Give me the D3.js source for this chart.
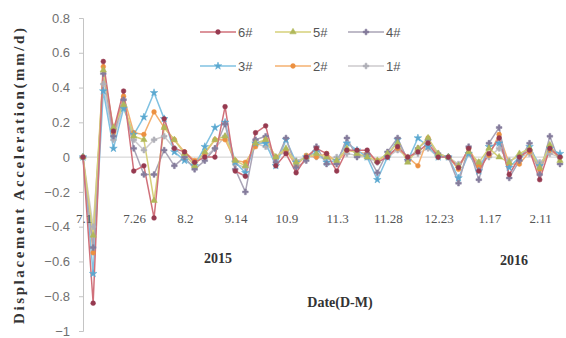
<!DOCTYPE html>
<html>
<head>
<meta charset="utf-8">
<script src="https://cdn.jsdelivr.net/npm/d3@7"></script>
<style>
  html, body { margin: 0; padding: 0; background: #fff; }
  svg { display: block; }
</style>
</head>
<body>
<svg id="chart" width="566" height="338"></svg>
<script>
// Observation dates, every 5 days from 1 July 2015
const categories = [
  "7.1","7.6","7.11","7.16","7.21","7.26","7.31","8.5","8.10","8.15",
  "8.20","8.25","8.30","9.4","9.9","9.14","9.19","9.24","9.29","10.4",
  "10.9","10.14","10.19","10.24","10.29","11.3","11.8","11.13","11.18","11.23",
  "11.28","12.3","12.8","12.13","12.18","12.23","12.28","1.2","1.7","1.12",
  "1.17","1.22","1.27","2.1","2.6","2.11","2.16","2.21"
];
// Axis labels shown under every fifth date
const tickLabels = ["7.1","7.26","8.2","9.14","10.9","11.3","11.28","12.23","1.17","2.11"];
const yTicks = [0.8, 0.6, 0.4, 0.2, 0, -0.2, -0.4, -0.6, -0.8, -1];

// Displacement acceleration (mm/d) per monitoring point
const s6 = [0,-0.84,0.55,0.15,0.38,-0.08,-0.05,-0.35,0.22,0.05,0.03,-0.03,0.00,0.00,0.29,-0.08,-0.11,0.14,0.18,-0.05,0.02,-0.09,0.00,0.05,0.02,-0.08,0.04,0.04,0.04,-0.03,0.00,0.06,0.00,0.03,0.08,0.00,0.00,-0.06,0.05,-0.08,0.02,0.11,-0.10,0.00,0.04,-0.13,0.05,0.00];
const s5 = [0,-0.45,0.50,0.17,0.30,0.12,0.10,-0.25,0.17,0.10,0.02,-0.05,0.03,0.10,0.12,-0.02,-0.05,0.08,0.10,0.00,0.05,-0.03,0.00,0.02,0.00,-0.02,0.05,0.02,0.00,-0.02,0.02,0.08,-0.03,0.05,0.11,0.02,0.00,-0.05,0.03,-0.03,0.05,0.00,-0.03,0.02,0.05,-0.06,0.07,-0.02];
const s4 = [0,-0.52,0.48,0.12,0.33,0.05,-0.10,-0.10,0.04,-0.05,0.00,-0.07,-0.02,0.05,0.19,-0.07,-0.20,0.10,0.12,-0.03,0.11,-0.06,-0.02,0.06,-0.04,-0.04,0.11,0.00,0.02,-0.09,0.03,0.11,-0.02,0.05,0.10,0.02,0.00,-0.15,0.06,-0.13,0.08,0.17,-0.12,-0.02,0.08,-0.10,0.12,-0.04];
const s3 = [0,-0.67,0.38,0.05,0.28,0.13,0.23,0.37,0.22,0.03,-0.02,-0.05,0.06,0.17,0.20,-0.03,-0.09,0.08,0.08,-0.05,0.10,-0.03,0.00,0.03,-0.03,-0.02,0.08,0.04,0.00,-0.13,0.00,0.10,-0.02,0.11,0.06,0.00,0.00,-0.12,0.02,-0.08,0.06,0.08,-0.06,0.00,0.06,-0.05,0.05,0.02];
const s2 = [0,-0.55,0.52,0.14,0.35,0.14,0.13,0.26,0.17,0.10,0.03,-0.02,0.02,0.10,0.10,-0.02,-0.03,0.06,0.10,0.00,0.04,-0.05,0.01,0.00,0.02,-0.03,0.04,0.03,0.02,-0.02,0.01,0.05,0.00,-0.05,0.11,0.00,0.00,-0.07,0.05,-0.05,0.01,0.13,-0.04,-0.04,0.03,-0.07,0.04,0.00];
const s1 = [0,-0.40,0.42,0.10,0.30,0.10,0.04,0.10,0.12,0.05,0.00,-0.03,0.00,0.05,0.12,-0.04,-0.06,0.08,0.06,0.00,0.03,-0.02,0.00,0.00,-0.01,0.00,0.02,0.01,0.00,-0.03,0.00,0.04,0.00,0.02,0.05,0.00,0.00,-0.04,0.02,-0.03,0.00,0.05,-0.02,0.00,0.02,-0.03,0.02,0.00];

const seriesNames = ["6#","5#","4#","3#","2#","1#"];
const seriesData = [s6, s5, s4, s3, s2, s1];
const lineColors = ["#d0707a","#d6d07a","#aaa4b6","#80c2e2","#f4b070","#cdcacd"];
const markerColors = ["#963a50","#b0b85a","#857c9c","#5aa8d0","#ec9040","#b0b0b8"];
const markerShapes = [d3.symbolCircle, d3.symbolTriangle, d3.symbolCross, d3.symbolStar, d3.symbolCircle, d3.symbolCross];

const svg = d3.select("#chart");

const x = d3.scalePoint().domain(categories).range([83, 560]);
const y = d3.scaleLinear().domain([-1, 0.8]).range([331, 18]);

// Y axis
const yAxis = svg.append("g").attr("transform", "translate(83,0)")
  .call(d3.axisLeft(y).tickValues(yTicks).tickSize(4).tickPadding(9)
    .tickFormat(d => d3.format("")(+d.toFixed(1))));
yAxis.select(".domain").attr("stroke", "#c4c4c4");
yAxis.selectAll(".tick line").attr("stroke", "#c4c4c4");
yAxis.selectAll(".tick text")
  .attr("font-family", "Liberation Sans, Arial, sans-serif")
  .attr("font-size", 13).attr("fill", "#707070");

// Horizontal axis along zero
svg.append("line")
  .attr("x1", 83).attr("x2", 562)
  .attr("y1", y(0)).attr("y2", y(0))
  .attr("stroke", "#cfcfcf").attr("stroke-width", 1);

// Series lines and markers
const line = d3.line().x((d, i) => x(categories[i])).y(d => y(d));
const order = [5, 4, 3, 2, 1, 0];
order.forEach(k => {
  svg.append("path")
    .datum(seriesData[k])
    .attr("d", line)
    .attr("fill", "none")
    .attr("stroke", lineColors[k])
    .attr("stroke-width", 1.5)
    .attr("stroke-linejoin", "round");
});
order.forEach(k => {
  svg.append("g").selectAll("path")
    .data(seriesData[k])
    .join("path")
    .attr("transform", (d, i) => `translate(${x(categories[i])},${y(d)})`)
    .attr("d", d3.symbol(markerShapes[k], 18))
    .attr("fill", markerColors[k])
    .attr("stroke", markerColors[k])
    .attr("stroke-width", 0.5);
});

// Date labels (every fifth category), drawn over the series
svg.append("g").selectAll("text")
  .data(tickLabels)
  .join("text")
  .attr("x", (d, i) => x(categories[i * 5]) + 1)
  .attr("y", 223)
  .attr("text-anchor", "middle")
  .attr("font-family", "Liberation Serif, Times New Roman, serif")
  .attr("font-size", 13).attr("fill", "#555")
  .text(d => d);

// Legend
const legend = svg.append("g");
const legendPos = [[200, 32], [275, 32], [348, 32], [200, 66], [275, 66], [348, 66]];
seriesNames.forEach((name, k) => {
  const [lx, ly] = legendPos[k];
  const g = legend.append("g").attr("transform", `translate(${lx},${ly})`);
  g.append("line").attr("x1", 0).attr("x2", 36).attr("y1", 0).attr("y2", 0)
    .attr("stroke", lineColors[k]).attr("stroke-width", 1.5);
  g.append("path").attr("transform", "translate(18,0)")
    .attr("d", d3.symbol(markerShapes[k], 18))
    .attr("fill", markerColors[k]).attr("stroke", markerColors[k]).attr("stroke-width", 0.5);
  g.append("text").attr("x", 38).attr("y", 5)
    .attr("font-family", "Liberation Sans, Arial, sans-serif")
    .attr("font-size", 13).attr("fill", "#555")
    .text(name);
});

// Year labels
svg.append("text").attr("x", 218).attr("y", 263).attr("text-anchor", "middle")
  .attr("font-family", "Liberation Serif, Times New Roman, serif")
  .attr("font-weight", "bold").attr("font-size", 14).attr("fill", "#333")
  .text("2015");
svg.append("text").attr("x", 514).attr("y", 265).attr("text-anchor", "middle")
  .attr("font-family", "Liberation Serif, Times New Roman, serif")
  .attr("font-weight", "bold").attr("font-size", 14).attr("fill", "#333")
  .text("2016");

// Axis titles
svg.append("text").attr("x", 340).attr("y", 307).attr("text-anchor", "middle")
  .attr("font-family", "Liberation Serif, Times New Roman, serif")
  .attr("font-weight", "bold").attr("font-size", 14).attr("fill", "#333")
  .text("Date(D-M)");
svg.append("text")
  .attr("transform", "translate(24,176) rotate(-90)")
  .attr("text-anchor", "middle")
  .attr("font-family", "Liberation Serif, Times New Roman, serif")
  .attr("font-weight", "bold").attr("font-size", 15).attr("fill", "#333")
  .attr("textLength", 296).attr("lengthAdjust", "spacing")
  .text("Displacement  Acceleration(mm/d)");
</script>
</body>
</html>
